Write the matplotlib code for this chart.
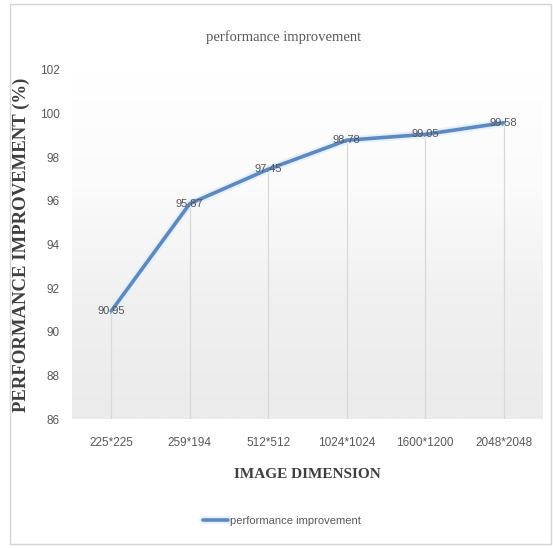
import matplotlib
matplotlib.use("Agg")
import matplotlib.pyplot as plt
import numpy as np
from matplotlib.patches import Rectangle
import matplotlib.patheffects as pe

categories = ["225*225", "259*194", "512*512", "1024*1024", "1600*1200", "2048*2048"]
improvement = [90.95, 95.87, 97.45, 98.78, 99.05, 99.58]
value_labels = ["90.95", "95.87", "97.45", "98.78", "99.05", "99.58"]
y_ticks = [86, 88, 90, 92, 94, 96, 98, 100, 102]

narrow = ["Liberation Sans Narrow", "Liberation Sans", "DejaVu Sans"]
serif = ["Liberation Serif", "DejaVu Serif"]

fig = plt.figure(figsize=(5.53, 5.48), dpi=100)
fig.patch.set_facecolor("white")

# outer chart frame
fig.patches.append(Rectangle((10 / 553, 4 / 548), 541 / 553, 540 / 548,
                             transform=fig.transFigure, fill=False,
                             edgecolor="#d4d4d4", linewidth=1.0))

ax = fig.add_axes([72 / 553, 1 - 419 / 548, 471 / 553, 349 / 548])
x = np.arange(len(categories))
ax.set_xlim(-0.5, len(categories) - 0.5)
ax.set_ylim(86, 102)

# soft vertical gradient in the plot area: white at top, light grey at bottom
grad = np.linspace(0.0, 1.0, 256).reshape(-1, 1)
ax.imshow(grad, extent=(-0.5, len(categories) - 0.5, 86, 102), aspect="auto",
          cmap=matplotlib.colors.LinearSegmentedColormap.from_list(
              "bg", ["#ffffff", "#fbfbfb", "#f0f0f0", "#ebebeb"]),
          zorder=0, origin="upper")

# drop lines from each point to the axis
ax.vlines(x, 86, improvement, colors="#d9d9d9", linewidth=0.9, zorder=1)

ax.plot(x, improvement, color="#5b89c4", linewidth=2.6, zorder=3,
        solid_capstyle="round", label="performance improvement",
        path_effects=[pe.Stroke(linewidth=5.5, foreground="#e6f0fb"), pe.Normal()])

for xi, yi, lab in zip(x, improvement, value_labels):
    ax.text(xi, yi, lab, ha="center", va="center", fontsize=8,
            family=narrow, color="#555555", zorder=4)

for s in ax.spines.values():
    s.set_visible(False)
ax.set_xticks(x)
ax.set_xticklabels(categories, family=narrow, fontsize=8.5, color="#595959")
ax.set_yticks(y_ticks)
ax.set_yticklabels([str(t) for t in y_ticks], family=narrow, fontsize=8.5, color="#595959")
ax.tick_params(length=0, pad=9)
ax.tick_params(axis="x", pad=13)

ax.set_xlabel("IMAGE DIMENSION", family=serif, fontweight="bold", fontsize=11,
              color="#3f3f3f", labelpad=14)
ax.set_ylabel("PERFORMANCE IMPROVEMENT (%)", family=serif, fontweight="bold",
              fontsize=13.5, color="#3f3f3f")
ax.yaxis.set_label_coords(-(72 - 30) / 471, 0.5)

fig.text(284 / 553, 1 - 37 / 548, "performance improvement", family=serif,
         fontsize=10.5, color="#595959", ha="center", va="center")

leg = fig.legend(loc="center", bbox_to_anchor=(282 / 553, 1 - 521 / 548),
                 frameon=False, prop={"family": narrow, "size": 8},
                 handlelength=2.2, handletextpad=0.2)
for t in leg.get_texts():
    t.set_color("#595959")

fig.savefig("out.png", dpi=100)
